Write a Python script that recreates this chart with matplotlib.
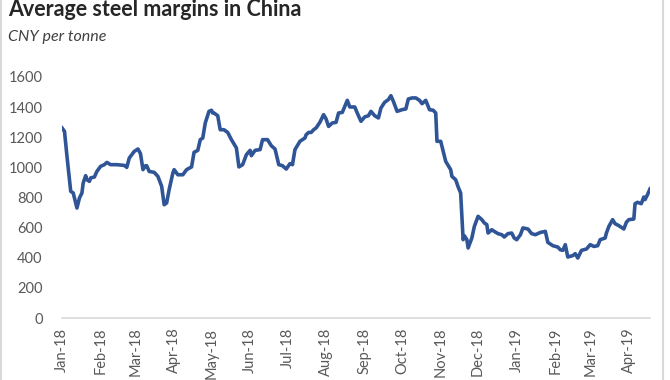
import matplotlib
matplotlib.use("Agg")
import matplotlib.pyplot as plt
import matplotlib.dates as mdates
import pandas as pd

# --- data (CNY per tonne) ---
DATES = [
    "2018-01-01", "2018-01-03", "2018-01-05", "2018-01-07", "2018-01-08", "2018-01-10",
    "2018-01-11", "2018-01-13", "2018-01-15", "2018-01-17", "2018-01-18", "2018-01-20",
    "2018-01-21", "2018-01-23", "2018-01-24", "2018-01-27", "2018-01-29",
    "2018-02-01", "2018-02-04", "2018-02-06", "2018-02-09", "2018-02-14", "2018-02-20",
    "2018-02-22", "2018-02-24", "2018-02-28",
    "2018-03-03", "2018-03-05", "2018-03-07", "2018-03-09", "2018-03-10", "2018-03-12",
    "2018-03-16", "2018-03-19", "2018-03-22", "2018-03-24", "2018-03-26", "2018-03-28",
    "2018-03-31",
    "2018-04-01", "2018-04-04", "2018-04-08", "2018-04-11", "2018-04-15", "2018-04-17",
    "2018-04-20", "2018-04-22", "2018-04-24", "2018-04-26", "2018-04-29",
    "2018-05-01", "2018-05-02", "2018-05-03", "2018-05-06", "2018-05-08", "2018-05-11",
    "2018-05-14", "2018-05-17", "2018-05-21", "2018-05-23", "2018-05-26", "2018-05-29",
    "2018-06-01", "2018-06-02", "2018-06-05", "2018-06-09", "2018-06-11", "2018-06-15",
    "2018-06-18", "2018-06-21", "2018-06-24", "2018-06-27", "2018-06-30",
    "2018-07-03", "2018-07-05", "2018-07-07", "2018-07-11", "2018-07-14", "2018-07-15",
    "2018-07-16", "2018-07-18", "2018-07-20", "2018-07-22", "2018-07-24", "2018-07-27",
    "2018-07-30",
    "2018-08-01", "2018-08-03", "2018-08-06", "2018-08-09", "2018-08-11", "2018-08-14",
    "2018-08-16", "2018-08-18", "2018-08-20", "2018-08-24", "2018-08-26", "2018-08-29",
    "2018-09-01", "2018-09-04", "2018-09-06", "2018-09-09", "2018-09-12", "2018-09-14",
    "2018-09-17", "2018-09-20", "2018-09-22", "2018-09-24", "2018-09-27",
    "2018-10-01", "2018-10-04", "2018-10-06", "2018-10-09", "2018-10-12", "2018-10-15",
    "2018-10-17", "2018-10-20", "2018-10-23", "2018-10-26", "2018-10-28", "2018-10-29",
    "2018-11-01", "2018-11-03", "2018-11-05", "2018-11-09", "2018-11-10", "2018-11-13",
    "2018-11-15", "2018-11-17", "2018-11-19", "2018-11-20", "2018-11-22", "2018-11-23",
    "2018-11-26", "2018-11-28",
    "2018-12-01", "2018-12-04", "2018-12-06", "2018-12-08", "2018-12-09", "2018-12-12",
    "2018-12-14", "2018-12-17", "2018-12-20", "2018-12-22", "2018-12-25", "2018-12-28",
    "2018-12-30",
    "2019-01-01", "2019-01-04", "2019-01-06", "2019-01-10", "2019-01-13", "2019-01-16",
    "2019-01-20", "2019-01-24", "2019-01-26", "2019-01-30",
    "2019-02-03", "2019-02-05", "2019-02-07", "2019-02-09", "2019-02-11", "2019-02-15",
    "2019-02-17", "2019-02-19", "2019-02-22", "2019-02-26",
    "2019-03-01", "2019-03-04", "2019-03-07", "2019-03-09", "2019-03-13", "2019-03-14",
    "2019-03-16", "2019-03-19", "2019-03-21", "2019-03-24", "2019-03-28", "2019-03-30",
    "2019-04-01", "2019-04-05", "2019-04-06", "2019-04-08", "2019-04-11", "2019-04-13",
    "2019-04-14", "2019-04-16", "2019-04-18",
]

MARGINS = [
    1262, 1239, 1073, 918, 841, 830, 797, 730, 797, 830, 896, 945, 918, 907, 930, 936, 973,
    1007, 1018, 1033, 1018, 1018, 1013, 1000, 1062, 1106,
    1122, 1091, 985, 1011, 1011, 973, 967, 940, 874, 752, 764, 852, 963,
    985, 951, 951, 985, 1003, 1100, 1113, 1184, 1195, 1295, 1372,
    1379, 1361, 1361, 1343, 1250, 1250, 1232, 1184, 1129, 1003, 1018, 1084,
    1113, 1078, 1113, 1118, 1184, 1184, 1144, 1122, 1018, 1011, 989,
    1025, 1018, 1118, 1173, 1189, 1195, 1217, 1232, 1232, 1250, 1262, 1299, 1350,
    1321, 1272, 1295, 1299, 1361, 1365, 1405, 1445, 1401, 1401, 1361, 1306,
    1335, 1343, 1372, 1343, 1328, 1394, 1432, 1450, 1476, 1438, 1372,
    1383, 1388, 1454, 1461, 1461, 1445, 1423, 1445, 1383, 1379, 1361, 1173,
    1173, 1106, 1040, 985, 940, 918, 870, 830, 520, 546, 520, 465, 531, 608,
    675, 653, 631, 620, 564, 586, 575, 560, 553, 538, 560, 564, 531,
    520, 553, 598, 591, 560, 553, 568, 575, 502, 480,
    471, 453, 449, 487, 405, 414, 427, 398, 449, 458,
    487, 475, 480, 520, 531, 564, 608, 653, 626, 613, 591, 635,
    653, 657, 759, 768, 759, 803, 786, 819, 857,
]

Y_TICKS = [0, 200, 400, 600, 800, 1000, 1200, 1400, 1600]

TITLE = "Average steel margins in China"
SUBTITLE = "CNY per tonne"

LINE_COLOR = "#2f5597"
TEXT_COLOR = "#595959"

plt.rcParams["font.family"] = ["Lato", "DejaVu Sans"]

dates = pd.to_datetime(DATES)

fig = plt.figure(figsize=(6.7, 3.8), dpi=100)
ax = fig.add_axes([62 / 670, 62 / 380, 588 / 670, 241 / 380])

ax.plot(dates, MARGINS, color=LINE_COLOR, linewidth=2.6, solid_joinstyle="round")

ax.set_ylim(0, 1600)
ax.set_yticks(Y_TICKS)
ax.set_xlim(dates[0], dates[-1])
ax.xaxis.set_major_locator(mdates.MonthLocator())
ax.xaxis.set_major_formatter(mdates.DateFormatter("%b-%y"))

for side in ["top", "right", "left"]:
    ax.spines[side].set_visible(False)
ax.spines["bottom"].set_color("#d9d9d9")
ax.spines["bottom"].set_linewidth(1.2)
ax.tick_params(axis="both", length=0, colors=TEXT_COLOR, labelsize=10.5)
ax.tick_params(axis="y", pad=14)
ax.tick_params(axis="x", pad=7)
plt.setp(ax.get_xticklabels(), rotation=90, fontsize=10.5)

fig.text(8 / 670, 1 - 16 / 380, TITLE, fontsize=15.5, fontweight="bold",
         color="#262626", ha="left", va="baseline")
fig.text(8 / 670, 1 - 41 / 380, SUBTITLE, fontsize=11.5, style="italic",
         color="#404040", ha="left", va="baseline")

# thin chart frame edges like the source export
fig.add_artist(plt.Line2D([1 / 670, 1 / 670], [0, 1], color="#d9d9d9", linewidth=1.5))
fig.add_artist(plt.Line2D([663 / 670, 663 / 670], [0, 1], color="#d9d9d9", linewidth=1.5))

fig.savefig("out.png", dpi=100)
